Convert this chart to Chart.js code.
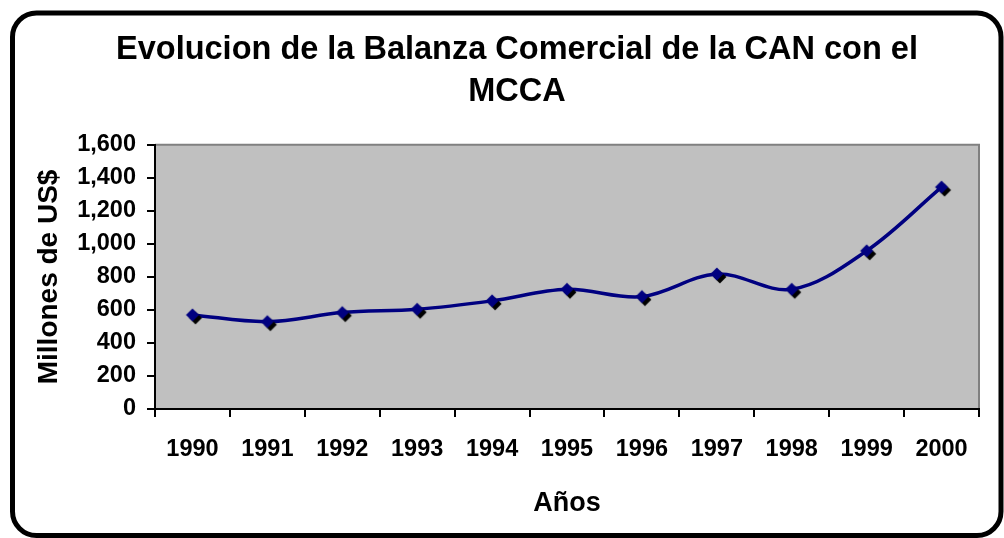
<!DOCTYPE html>
<html>
<head>
<meta charset="utf-8">
<script src="https://cdn.jsdelivr.net/npm/chart.js@4.4.1/dist/chart.umd.min.js"></script>
<style>
  html, body { margin: 0; padding: 0; background: #fff; }
  #wrap { width: 1004px; height: 538px; }
</style>
</head>
<body>
<div id="wrap"><canvas id="c" width="1004" height="538"></canvas></div>
<script>
// ---- data ----
const years = ['1990','1991','1992','1993','1994','1995','1996','1997','1998','1999','2000'];
const balanza = [570, 529, 584, 604, 655, 725, 681, 818, 725, 958, 1344];
const titleLines = ['Evolucion de la Balanza Comercial de la CAN con el', 'MCCA'];
const yTitle = 'Millones de US$';
const xTitle = 'Años';
const yMin = 0, yMax = 1600, yStep = 200;

const FONT = "'Liberation Sans', Arial, Helvetica, sans-serif";

// diamond marker with black drop shadow
function makeMarker() {
  const c = document.createElement('canvas');
  c.width = 26; c.height = 26;
  const g = c.getContext('2d');
  function diamond(cx, cy, r, col) {
    g.beginPath();
    g.moveTo(cx, cy - r); g.lineTo(cx + r, cy); g.lineTo(cx, cy + r); g.lineTo(cx - r, cy);
    g.closePath(); g.fillStyle = col; g.fill();
  }
  diamond(16, 16, 6.5, '#000000');
  diamond(13, 13, 6.5, '#000080');
  return c;
}

const decor = {
  id: 'decor',
  beforeDraw(chart) {
    const {ctx, chartArea: a} = chart;
    ctx.save();
    ctx.fillStyle = '#ffffff';
    ctx.fillRect(0, 0, chart.width, chart.height);
    ctx.fillStyle = '#c0c0c0';
    ctx.fillRect(a.left, a.top, a.right - a.left, a.bottom - a.top);
    ctx.strokeStyle = '#808080';
    ctx.lineWidth = 2;
    ctx.beginPath();
    ctx.moveTo(a.left, a.top); ctx.lineTo(a.right, a.top); ctx.lineTo(a.right, a.bottom);
    ctx.stroke();
    ctx.restore();
  },
  afterDraw(chart) {
    const ctx = chart.ctx;
    ctx.save();
    ctx.strokeStyle = '#000';
    ctx.lineWidth = 5;
    const x0 = 12.5, y0 = 13, x1 = 1001, y1 = 535.5, r = 24;
    ctx.beginPath();
    ctx.moveTo(x0 + r, y0);
    ctx.lineTo(x1 - r, y0);
    ctx.arcTo(x1, y0, x1, y0 + r, r);
    ctx.lineTo(x1, y1 - r);
    ctx.arcTo(x1, y1, x1 - r, y1, r);
    ctx.lineTo(x0 + r, y1);
    ctx.arcTo(x0, y1, x0, y1 - r, r);
    ctx.lineTo(x0, y0 + r);
    ctx.arcTo(x0, y0, x0 + r, y0, r);
    ctx.closePath();
    ctx.stroke();
    ctx.restore();
  }
};

new Chart(document.getElementById('c'), {
  type: 'line',
  data: {
    labels: years,
    datasets: [{
      data: balanza,
      borderColor: '#000080',
      borderWidth: 3.5,
      tension: 0.35,
      pointStyle: makeMarker(),
      pointRadius: 7,
      fill: false
    }]
  },
  options: {
    responsive: false,
    animation: false,
    devicePixelRatio: 1,
    layout: { padding: { left: 55, right: 25, top: 0, bottom: 0 } },
    plugins: {
      legend: { display: false },
      tooltip: { enabled: false },
      title: {
        display: true,
        text: titleLines,
        color: '#000',
        font: { family: FONT, size: 32.5, weight: 'bold', lineHeight: 1.29 },
        padding: { top: 29, bottom: 32 }
      }
    },
    scales: {
      x: {
        type: 'category',
        offset: true,
        grid: { offset: true, drawOnChartArea: false, drawTicks: true, tickLength: 8, color: '#000', lineWidth: 2 },
        border: { display: true, color: '#000', width: 2 },
        ticks: { color: '#000', font: { family: FONT, size: 23.5, weight: 'bold' }, padding: 18, maxRotation: 0, autoSkip: false },
        title: { display: true, text: xTitle, color: '#000', font: { family: FONT, size: 27, weight: 'bold' }, padding: { top: 0, bottom: 18 } },
        afterFit(s) { s.height = 129; }
      },
      y: {
        min: yMin, max: yMax,
        grid: { drawOnChartArea: false, drawTicks: true, tickLength: 8, color: '#000', lineWidth: 2 },
        border: { display: true, color: '#000', width: 2 },
        ticks: { stepSize: yStep, color: '#000', font: { family: FONT, size: 23.5, weight: 'bold' }, padding: 11,
                 callback: v => Number(v).toLocaleString('en-US') },
        title: { display: true, text: yTitle, color: '#000', font: { family: FONT, size: 28, weight: 'bold' }, padding: { top: -23, bottom: 0 } },
        afterFit(s) { s.width = 100; }
      }
    }
  },
  plugins: [decor]
});
</script>
</body>
</html>
